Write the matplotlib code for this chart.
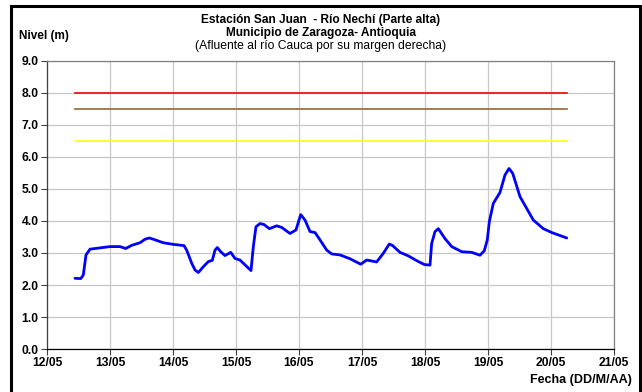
import matplotlib
matplotlib.use("Agg")
import matplotlib.pyplot as plt
from matplotlib.patches import Rectangle

plt.rcParams['font.family'] = ['Liberation Sans', 'DejaVu Sans']

# Time in fractional days of May, river level in metres
dias = [12.444, 12.535, 12.576, 12.619, 12.683, 12.841, 13.0, 13.159, 13.249,
        13.344, 13.476, 13.556, 13.624, 13.687, 13.846, 14.005, 14.175, 14.217,
        14.297, 14.349, 14.402, 14.481, 14.560, 14.624, 14.667, 14.703, 14.757,
        14.825, 14.916, 14.984, 15.063, 15.143, 15.238, 15.275, 15.317, 15.381,
        15.444, 15.529, 15.646, 15.725, 15.857, 15.952, 16.027, 16.095, 16.175,
        16.254, 16.333, 16.440, 16.519, 16.651, 16.810, 16.979, 17.075, 17.233,
        17.338, 17.433, 17.487, 17.603, 17.735, 17.878, 17.989, 18.079, 18.106,
        18.159, 18.211, 18.317, 18.424, 18.583, 18.741, 18.873, 18.941, 18.989,
        19.021, 19.084, 19.190, 19.270, 19.333, 19.392, 19.508, 19.719, 19.878,
        20.011, 20.249]
nivel = [2.21, 2.20, 2.31, 2.94, 3.12, 3.16, 3.20, 3.20, 3.14,
         3.24, 3.32, 3.43, 3.47, 3.43, 3.32, 3.27, 3.23, 3.09,
         2.68, 2.47, 2.39, 2.57, 2.73, 2.77, 3.09, 3.17, 3.04,
         2.92, 3.02, 2.83, 2.78, 2.63, 2.45, 3.20, 3.82, 3.92,
         3.89, 3.76, 3.85, 3.80, 3.61, 3.72, 4.20, 4.03, 3.67,
         3.64, 3.41, 3.09, 2.97, 2.94, 2.82, 2.65, 2.78, 2.72,
         2.99, 3.28, 3.23, 3.02, 2.91, 2.75, 2.64, 2.62, 3.30,
         3.67, 3.76, 3.45, 3.20, 3.04, 3.02, 2.93, 3.07, 3.41,
         3.98, 4.55, 4.89, 5.44, 5.64, 5.49, 4.76, 4.03, 3.76,
         3.64, 3.47]

# Alert thresholds
umbral_niveles = [8.0, 7.5, 6.5]
umbral_colores = ['#ff0000', '#996633', '#ffff00']

x_ticks = [12, 13, 14, 15, 16, 17, 18, 19, 20, 21]
x_labels = ['12/05', '13/05', '14/05', '15/05', '16/05', '17/05', '18/05',
            '19/05', '20/05', '21/05']
y_ticks = [0, 1, 2, 3, 4, 5, 6, 7, 8, 9]

fig = plt.figure(figsize=(6.42, 3.92), dpi=100)
ax = fig.add_axes([47 / 642, 1 - 349 / 392, 567 / 642, 288 / 392])

for nv, col in zip(umbral_niveles, umbral_colores):
    ax.plot([dias[0], dias[-1]], [nv, nv], color=col, lw=1.2, zorder=3)

ax.plot(dias, nivel, color='#0000ff', lw=2.0, zorder=4,
        solid_joinstyle='round', solid_capstyle='round')

ax.set_xlim(12, 21)
ax.set_ylim(0, 9)
ax.set_xticks(x_ticks)
ax.set_xticklabels(x_labels)
ax.set_yticks(y_ticks)
ax.set_yticklabels([f'{v:.1f}' for v in y_ticks])
ax.grid(True, color='#c8c8c8', lw=0.9)
ax.set_axisbelow(True)
ax.tick_params(axis='both', direction='out', length=4, width=0.8,
               labelsize=8.7, color='#404040')
for lbl in ax.get_xticklabels() + ax.get_yticklabels():
    lbl.set_fontweight('bold')
ax.tick_params(axis='x', pad=2)
ax.tick_params(axis='y', pad=2)

ax.spines['left'].set_color('#404040')
ax.spines['bottom'].set_color('#000000')
ax.spines['top'].set_color('#808080')
ax.spines['right'].set_color('#808080')
for s in ax.spines.values():
    s.set_linewidth(0.9)

# Titles and axis captions
fig.text(321 / 642, 1 - 20 / 392, 'Estación San Juan  - Río Nechí (Parte alta)',
         ha='center', va='center', fontsize=8.6, fontweight='bold')
fig.text(321 / 642, 1 - 33 / 392, 'Municipio de Zaragoza- Antioquia',
         ha='center', va='center', fontsize=8.6, fontweight='bold')
fig.text(321 / 642, 1 - 46 / 392, '(Afluente al río Cauca por su margen derecha)',
         ha='center', va='center', fontsize=8.7)
fig.text(19 / 642, 1 - 36 / 392, 'Nivel (m)', ha='left', va='center',
         fontsize=8.5, fontweight='bold')
fig.text(632 / 642, 1 - 380 / 392, 'Fecha (DD/M/AA)', ha='right', va='center',
         fontsize=9, fontweight='bold')

# Frame around the whole chart
fig.patches.append(Rectangle((11 / 642, -0.05), 629 / 642, 1.05 - 6 / 392,
                             transform=fig.transFigure, fill=False,
                             edgecolor='black', lw=2.2))

fig.savefig('out.png', dpi=100)
